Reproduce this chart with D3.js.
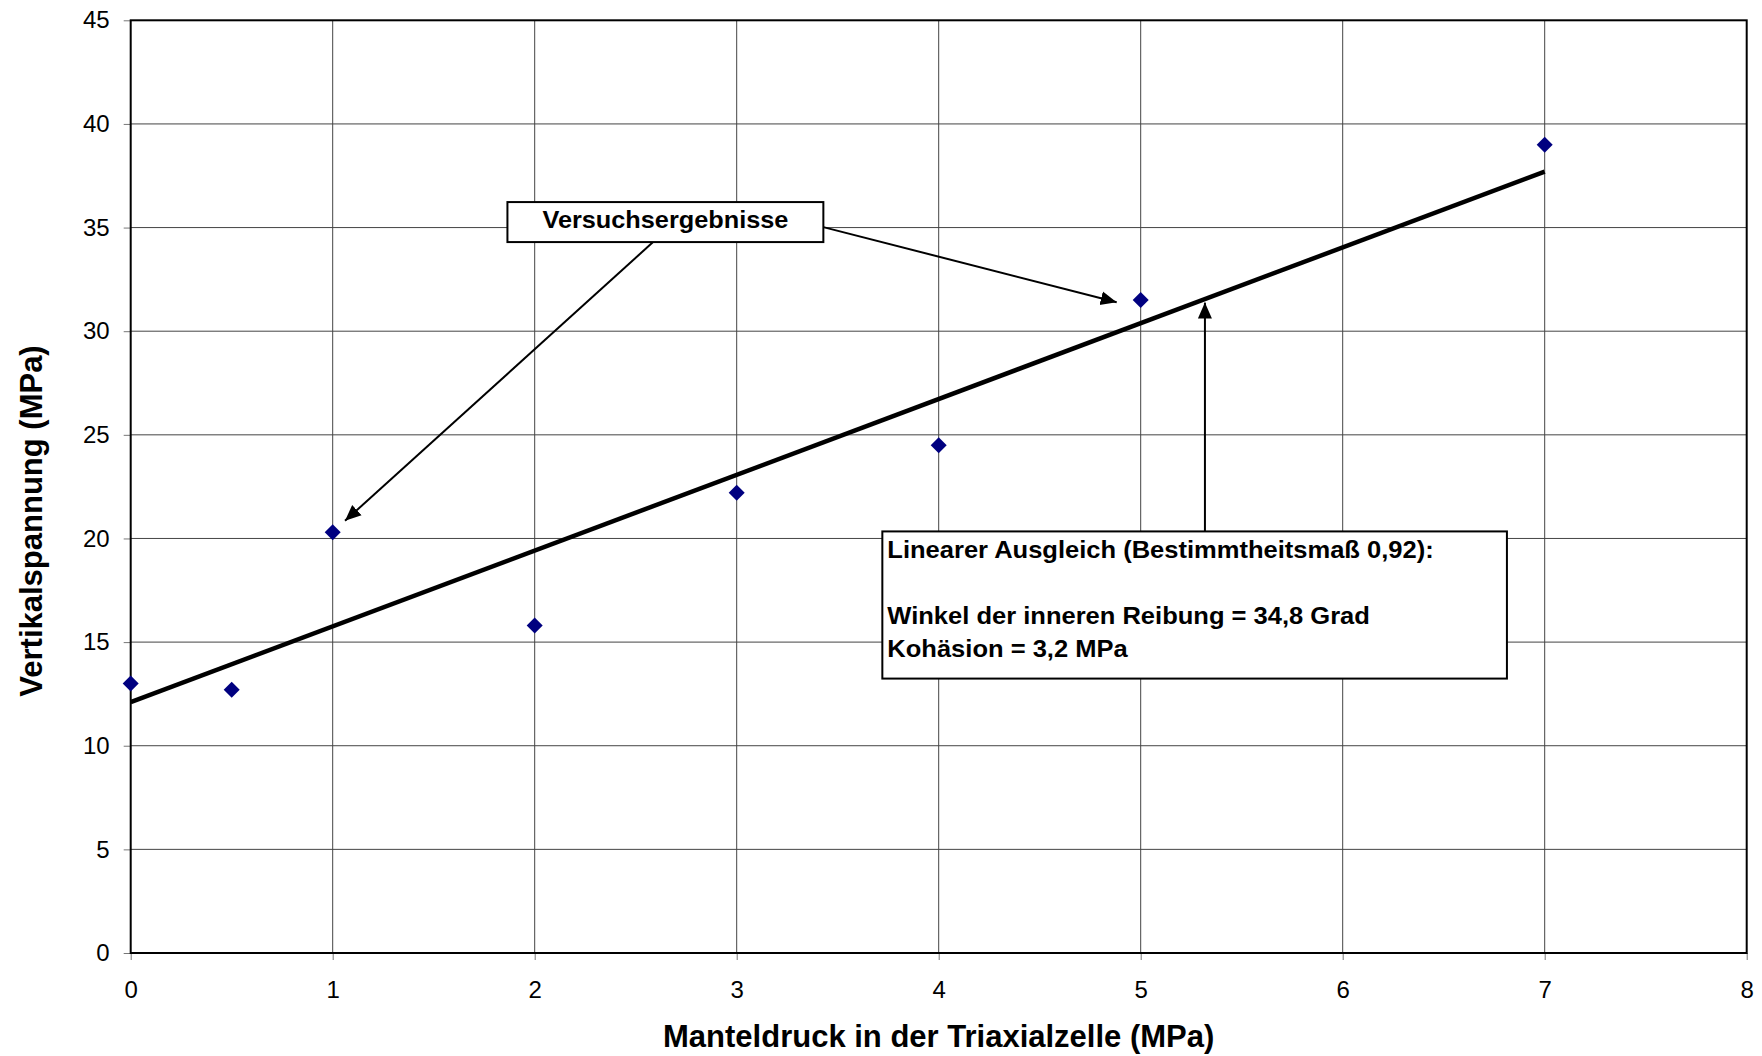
<!DOCTYPE html>
<html lang="de">
<head>
<meta charset="utf-8">
<title>Triaxialversuch</title>
<style>
  body { margin: 0; background: #fff; }
  text { font-family: "Liberation Sans", Arial, sans-serif; }
</style>
</head>
<body>
<script src="https://cdn.jsdelivr.net/npm/d3@7"></script>
<script>
// data
var mantelDruck = [0, 0.5, 1, 2, 3, 4, 5, 7];
var vertikalSpannung = [13.0, 12.7, 20.3, 15.8, 22.2, 24.5, 31.5, 39.0];
// linear fit, end points as drawn
var trendX = [0, 7];
var trendY = [12.1, 37.7];
var xTicks = [0, 1, 2, 3, 4, 5, 6, 7, 8];
var yTicks = [0, 5, 10, 15, 20, 25, 30, 35, 40, 45];

var width = 1762, height = 1056;
var plotLeft = 130.7, plotRight = 1746.7, plotTop = 20.3, plotBottom = 953;

var svg = d3.select("body").append("svg")
  .attr("width", width).attr("height", height);

var x = d3.scaleLinear().domain([0, 8]).range([plotLeft, plotRight]);
var y = d3.scaleLinear().domain([0, 45]).range([plotBottom, plotTop]);

// grid
svg.append("g").selectAll("line")
  .data(xTicks.slice(1, -1)).enter().append("line")
  .attr("x1", d => x(d)).attr("x2", d => x(d))
  .attr("y1", plotTop).attr("y2", plotBottom)
  .attr("stroke", "#444").attr("stroke-width", 1);
svg.append("g").selectAll("line")
  .data(yTicks.slice(1, -1)).enter().append("line")
  .attr("y1", d => y(d)).attr("y2", d => y(d))
  .attr("x1", plotLeft).attr("x2", plotRight)
  .attr("stroke", "#444").attr("stroke-width", 1);

// axes
var xAxis = svg.append("g")
  .attr("transform", "translate(0," + plotBottom + ")")
  .call(d3.axisBottom(x).tickValues(xTicks).tickSize(7).tickPadding(21).tickFormat(d3.format("d")));
var yAxis = svg.append("g")
  .attr("transform", "translate(" + plotLeft + ",0)")
  .call(d3.axisLeft(y).tickValues(yTicks).tickSize(7).tickPadding(14).tickFormat(d3.format("d")));
[xAxis, yAxis].forEach(function (a) {
  a.select(".domain").remove();
  a.selectAll(".tick line").attr("stroke", "#777").attr("stroke-width", 1);
  a.selectAll("text")
    .attr("fill", "#000")
    .style("font-size", "24px")
    .style("font-family", "'Liberation Sans', Arial, sans-serif");
});

// plot frame
svg.append("rect")
  .attr("x", plotLeft).attr("y", plotTop)
  .attr("width", plotRight - plotLeft).attr("height", plotBottom - plotTop)
  .attr("fill", "none").attr("stroke", "#000").attr("stroke-width", 2);

// trend line
svg.append("line")
  .attr("x1", x(trendX[0])).attr("y1", y(trendY[0]))
  .attr("x2", x(trendX[1])).attr("y2", y(trendY[1]))
  .attr("stroke", "#000").attr("stroke-width", 4.5);

// points
var pts = mantelDruck.map((d, i) => [d, vertikalSpannung[i]]);
svg.append("g").selectAll("path")
  .data(pts).enter().append("path")
  .attr("d", d3.symbol(d3.symbolSquare, 128))
  .attr("transform", d => "translate(" + x(d[0]) + "," + y(d[1]) + ") rotate(45)")
  .attr("fill", "#000080");

// arrow head
svg.append("defs").append("marker")
  .attr("id", "head")
  .attr("markerUnits", "userSpaceOnUse")
  .attr("viewBox", "-16 -8 17 16")
  .attr("refX", 0).attr("refY", 0)
  .attr("markerWidth", 17).attr("markerHeight", 16)
  .attr("orient", "auto")
  .append("path").attr("d", "M0,0 L-16,-7 L-16,7 Z").attr("fill", "#000");

// annotations (data units)
var arrows = [
  [[2.586, 34.30], [1.061, 20.85]],
  [[3.429, 35.02], [4.881, 31.40]],
  [[5.318, 20.34], [5.318, 31.38]]
];
svg.append("g").selectAll("line")
  .data(arrows).enter().append("line")
  .attr("x1", d => x(d[0][0])).attr("y1", d => y(d[0][1]))
  .attr("x2", d => x(d[1][0])).attr("y2", d => y(d[1][1]))
  .attr("stroke", "#000").attr("stroke-width", 2)
  .attr("marker-end", "url(#head)");

// the source font runs a bit wider than Liberation Sans
var wide = 1.1;

// box 1
var b1 = { x0: 1.865, x1: 3.429, y0: 36.23, y1: 34.30 };
svg.append("rect")
  .attr("x", x(b1.x0)).attr("y", y(b1.y0))
  .attr("width", x(b1.x1) - x(b1.x0)).attr("height", y(b1.y1) - y(b1.y0))
  .attr("fill", "#fff").attr("stroke", "#000").attr("stroke-width", 2);
svg.append("text")
  .attr("transform", "translate(" + (x(b1.x0) + x(b1.x1)) / 2 + "," + (y(b1.y0) + 26) + ") scale(" + wide + ",1)")
  .attr("text-anchor", "middle")
  .style("font-size", "23px").style("font-weight", "bold")
  .text("Versuchsergebnisse");

// box 2
var b2 = { x0: 3.721, x1: 6.813, y0: 20.34, y1: 13.24 };
svg.append("rect")
  .attr("x", x(b2.x0)).attr("y", y(b2.y0))
  .attr("width", x(b2.x1) - x(b2.x0)).attr("height", y(b2.y1) - y(b2.y0))
  .attr("fill", "#fff").attr("stroke", "#000").attr("stroke-width", 2);
var fitLines = ["Linearer Ausgleich (Bestimmtheitsmaß 0,92):", "",
  "Winkel der inneren Reibung = 34,8 Grad", "Kohäsion = 3,2 MPa"];
svg.append("g").selectAll("text")
  .data(fitLines).enter().append("text")
  .attr("transform", (d, i) => "translate(" + (x(b2.x0) + 5) + "," + (y(b2.y0) + 27 + i * 33) + ") scale(1.11,1)")
  .style("font-size", "23px").style("font-weight", "bold")
  .text(d => d);

// axis titles
svg.append("text")
  .attr("x", (plotLeft + plotRight) / 2).attr("y", 1047)
  .attr("text-anchor", "middle")
  .style("font-size", "31px").style("font-weight", "bold")
  .text("Manteldruck in der Triaxialzelle (MPa)");
svg.append("text")
  .attr("transform", "translate(42," + 521 + ") rotate(-90)")
  .attr("text-anchor", "middle")
  .style("font-size", "31px").style("font-weight", "bold")
  .text("Vertikalspannung (MPa)");
</script>
</body>
</html>
